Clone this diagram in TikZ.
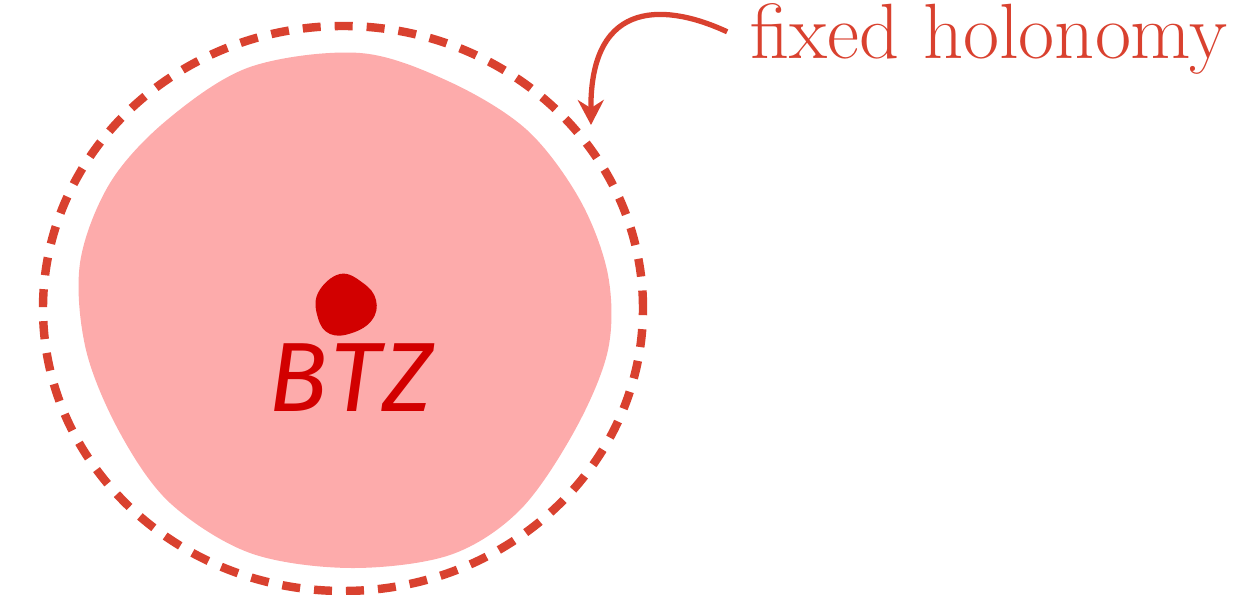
\documentclass[tikz,border=0pt]{standalone}
\usepackage{fontspec}
\usepackage{xcolor}
\usepackage{tikz}
\usetikzlibrary{positioning,arrows.meta}
\newfontfamily\handfont[LetterSpace=4]{Fira Sans}
\definecolor{holored}{RGB}{217,65,47}
\definecolor{blobpink}{RGB}{253,171,171}
\definecolor{btzred}{RGB}{210,0,0}

\begin{document}
\begin{tikzpicture}[
  ring/.style={draw=holored, line width=2.4pt, dash pattern=on 0.18cm off 0.14cm},
  blob/.style={fill=blobpink, draw=none},
  arr/.style={-{Stealth[length=2.5mm, width=2.6mm]}, line width=1.5pt, draw=holored},
  lbl/.style={inner sep=0pt, text=holored, font=\fontsize{22.3}{26}\selectfont\addfontfeature{LetterSpace=2.5}}]
  \useasboundingbox (0,0) rectangle (12.44,5.95);
  % region around the black hole
  \path[blob] plot[smooth cycle, tension=0.55] coordinates {
    (3.60,5.42) (2.50,5.28) (1.67,4.75) (1.10,4.12) (0.80,3.32) (0.86,2.45)
    (1.20,1.62) (1.70,0.92) (2.50,0.42) (3.50,0.27) (4.50,0.40) (5.20,0.85)
    (5.75,1.65) (6.08,2.45) (6.08,3.20) (5.80,3.95) (5.27,4.65) (4.50,5.13)};
  \draw[ring] (3.43,2.865) ellipse [x radius=3.0cm, y radius=2.825cm];
  % the BTZ point
  \fill[btzred] plot[smooth cycle, tension=0.7] coordinates {
    (3.40,3.21) (3.63,3.12) (3.76,2.95) (3.72,2.75) (3.52,2.62) (3.30,2.61) (3.18,2.77) (3.18,3.02)};
  \node[text=btzred, font=\handfont\itshape\fontsize{28}{30}\selectfont, inner sep=0pt] (btz) at (3.51,2.17) {BTZ};
  % label
  \node[lbl, anchor=base west] (label) at (7.50,5.366) {fixed holonomy};
  \coordinate (tip) at (5.91,4.70);
  \draw[arr] ([xshift=-6.5pt,yshift=2pt]label.west) .. controls (6.7,5.9) and (5.90,6.0) .. (tip);
\end{tikzpicture}
\end{document}
